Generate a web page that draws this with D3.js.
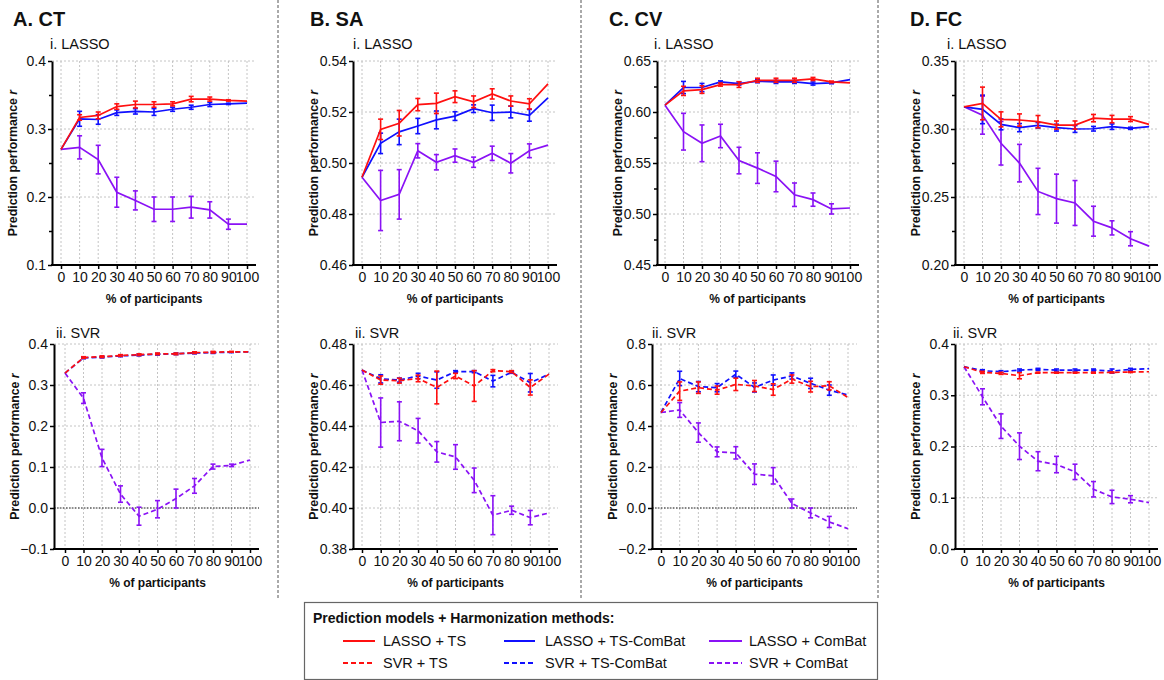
<!DOCTYPE html>
<html><head><meta charset="utf-8">
<script src="https://cdn.jsdelivr.net/npm/d3@7"></script>
<style>body{margin:0;background:#fff}svg{display:block;font-family:"Liberation Sans",Arial,sans-serif}</style>
</head><body><svg id="c" width="1164" height="680"></svg>
<script>
const pct = [0,10,20,30,40,50,60,70,80,90,100];
const xTickLabels = ["0","10","20","30","40","50","60","70","80","90","100"];
const sectionTitles = ["A. CT","B. SA","C. CV","D. FC"];
const modelTitles = ["i. LASSO","ii. SVR"];
const legendTitle = "Prediction models + Harmonization methods:";
const seriesNames = ["LASSO + TS","LASSO + TS-ComBat","LASSO + ComBat","SVR + TS","SVR + TS-ComBat","SVR + ComBat"];

// A. CT
const ctLassoTS = [0.270,0.317,0.320,0.333,0.336,0.336,0.337,0.344,0.344,0.342,0.341];
const ctLassoTSErr = [0,0.004,0.005,0.004,0.005,0.004,0.003,0.004,0.003,0.001,0];
const ctLassoTSC = [0.270,0.315,0.314,0.324,0.326,0.325,0.329,0.332,0.336,0.337,0.338];
const ctLassoTSCErr = [0,0.011,0.007,0.004,0.004,0.005,0.003,0.003,0.003,0.001,0];
const ctLassoCB = [0.270,0.273,0.255,0.207,0.195,0.182,0.182,0.185,0.181,0.160,0.160];
const ctLassoCBErr = [0,0.017,0.021,0.022,0.014,0.018,0.018,0.016,0.012,0.0075,0];
const ctSvrTS = [0.329,0.367,0.369,0.372,0.374,0.376,0.376,0.379,0.380,0.381,0.381];
const ctSvrTSErr = [0,0.002,0.002,0.002,0.002,0.002,0.002,0.002,0.002,0.001,0];
const ctSvrTSC = [0.329,0.366,0.368,0.371,0.373,0.375,0.376,0.378,0.379,0.380,0.381];
const ctSvrTSCErr = [0,0.002,0.002,0.002,0.002,0.002,0.002,0.002,0.002,0.001,0];
const ctSvrCB = [0.329,0.268,0.122,0.034,-0.020,-0.003,0.023,0.054,0.101,0.104,0.117];
const ctSvrCBErr = [0,0.013,0.021,0.020,0.022,0.021,0.023,0.018,0.006,0.003,0];

// B. SA
const saLassoTS = [0.4944,0.5132,0.5156,0.5229,0.5234,0.5260,0.5240,0.5271,0.5243,0.5232,0.5310];
const saLassoTSErr = [0,0.004,0.005,0.0024,0.004,0.0023,0.0023,0.002,0.002,0.002,0];
const saLassoTSC = [0.4944,0.5077,0.5122,0.5145,0.5169,0.5184,0.5213,0.5197,0.5200,0.5187,0.5255];
const saLassoTSCErr = [0,0.004,0.005,0.003,0.0035,0.0017,0.0015,0.003,0.0023,0.0023,0];
const saLassoCB = [0.4944,0.4853,0.4877,0.5048,0.5003,0.5029,0.5003,0.5038,0.4999,0.5048,0.5070];
const saLassoCBErr = [0,0.0118,0.0097,0.0028,0.003,0.0026,0.002,0.0028,0.0038,0.0027,0];
const saSvrTS = [0.4673,0.4624,0.4621,0.4632,0.4588,0.4644,0.4595,0.4670,0.4665,0.4588,0.4653];
const saSvrTSErr = [0,0.002,0.0012,0.0016,0.008,0.0013,0.0075,0.0005,0.0005,0.0037,0];
const saSvrTSC = [0.4673,0.4630,0.4624,0.4644,0.4624,0.4665,0.4665,0.4619,0.4662,0.4611,0.4653];
const saSvrTSCErr = [0,0.002,0.001,0.0013,0.004,0.0005,0.0005,0.0028,0.0005,0.0045,0];
const saSvrCB = [0.4673,0.4417,0.4423,0.4377,0.4274,0.4249,0.4135,0.3965,0.3989,0.3953,0.3976];
const saSvrCBErr = [0,0.012,0.0095,0.006,0.005,0.006,0.006,0.0095,0.002,0.0035,0];

// C. CV
const cvLassoTS = [0.6067,0.6207,0.6220,0.6269,0.6269,0.6311,0.6311,0.6311,0.6324,0.6295,0.6285];
const cvLassoTSErr = [0,0.0045,0.0037,0.0015,0.0028,0.002,0.002,0.002,0.0015,0.0008,0];
const cvLassoTSC = [0.6067,0.6240,0.6240,0.6295,0.6279,0.6302,0.6295,0.6295,0.6279,0.6285,0.6318];
const cvLassoTSCErr = [0,0.006,0.004,0.001,0.0015,0.0015,0.0015,0.0015,0.0015,0.0008,0];
const cvLassoCB = [0.6067,0.5807,0.5693,0.5765,0.5524,0.5450,0.5368,0.5189,0.5141,0.5050,0.5059];
const cvLassoCBErr = [0,0.018,0.018,0.0115,0.013,0.015,0.015,0.0115,0.0065,0.005,0];
const cvSvrTS = [0.466,0.570,0.587,0.575,0.603,0.595,0.578,0.629,0.592,0.596,0.539];
const cvSvrTSErr = [0,0.045,0.028,0.02,0.03,0.027,0.028,0.02,0.026,0.02,0];
const cvSvrTSC = [0.466,0.632,0.592,0.587,0.653,0.588,0.624,0.644,0.608,0.575,0.551];
const cvSvrTSCErr = [0,0.035,0.025,0.02,0.015,0.022,0.025,0.015,0.025,0.025,0];
const cvSvrCB = [0.466,0.478,0.368,0.274,0.269,0.165,0.157,0.022,-0.024,-0.068,-0.101];
const cvSvrCBErr = [0,0.036,0.047,0.024,0.03,0.05,0.04,0.022,0.024,0.027,0];

// D. FC
const fcLassoTS = [0.3163,0.3188,0.3071,0.3066,0.3054,0.3029,0.3029,0.3080,0.3073,0.3073,0.3034];
const fcLassoTSErr = [0,0.012,0.0055,0.0045,0.0045,0.003,0.003,0.0027,0.0027,0.0018,0];
const fcLassoTSC = [0.3163,0.3144,0.3034,0.3010,0.3027,0.3010,0.3000,0.3002,0.3017,0.3005,0.3017];
const fcLassoTSCErr = [0,0.0105,0.004,0.003,0.002,0.0025,0.0025,0.0017,0.002,0.0008,0];
const fcLassoCB = [0.3163,0.3102,0.2895,0.2749,0.2541,0.2488,0.2456,0.2322,0.2273,0.2193,0.2139];
const fcLassoCBErr = [0,0.014,0.016,0.0138,0.017,0.018,0.0165,0.011,0.0052,0.0052,0];
const fcSvrTS = [0.3557,0.3446,0.3427,0.3381,0.3440,0.3440,0.3440,0.3440,0.3446,0.3453,0.3459];
const fcSvrTSErr = [0,0.002,0.002,0.006,0.001,0.001,0.001,0.001,0.001,0.001,0];
const fcSvrTSC = [0.3557,0.3479,0.3459,0.3492,0.3505,0.3492,0.3492,0.3492,0.3472,0.3505,0.3518];
const fcSvrTSCErr = [0,0.002,0.002,0.002,0.002,0.002,0.002,0.002,0.004,0.002,0];
const fcSvrCB = [0.3557,0.2970,0.2397,0.2006,0.1713,0.1648,0.1505,0.1166,0.1016,0.0971,0.0906];
const fcSvrCBErr = [0,0.0156,0.024,0.026,0.0186,0.016,0.015,0.015,0.013,0.007,0];

const RED = "#ff1010", BLUE = "#1010ff", PURPLE = "#8a12f5";
const FONT = '"Liberation Sans", Arial, sans-serif';

const svg = d3.select("#c");

const panels = [
  {sec:0, row:0, ax:52, x0:61, x100:247, title:[50,49], dom:[0.1,0.4], step:0.1, minor:true, fmt:".1f",
   s:[[ctLassoCB,ctLassoCBErr,PURPLE],[ctLassoTSC,ctLassoTSCErr,BLUE],[ctLassoTS,ctLassoTSErr,RED]]},
  {sec:0, row:1, ax:54, x0:65, x100:250, title:[56,338], dom:[-0.1,0.4], step:0.1, minor:false, fmt:".1f", zero:true,
   s:[[ctSvrCB,ctSvrCBErr,PURPLE],[ctSvrTSC,ctSvrTSCErr,BLUE],[ctSvrTS,ctSvrTSErr,RED]]},
  {sec:1, row:0, ax:353, x0:362, x100:548, title:[353,49], dom:[0.46,0.54], step:0.02, minor:false, fmt:".2f",
   s:[[saLassoCB,saLassoCBErr,PURPLE],[saLassoTSC,saLassoTSCErr,BLUE],[saLassoTS,saLassoTSErr,RED]]},
  {sec:1, row:1, ax:353, x0:362, x100:549, title:[355,338], dom:[0.38,0.48], step:0.02, minor:false, fmt:".2f",
   s:[[saSvrCB,saSvrCBErr,PURPLE],[saSvrTSC,saSvrTSCErr,BLUE],[saSvrTS,saSvrTSErr,RED]]},
  {sec:2, row:0, ax:657, x0:665, x100:850, title:[654,49], dom:[0.45,0.65], step:0.05, minor:true, fmt:".2f",
   s:[[cvLassoCB,cvLassoCBErr,PURPLE],[cvLassoTSC,cvLassoTSCErr,BLUE],[cvLassoTS,cvLassoTSErr,RED]]},
  {sec:2, row:1, ax:652, x0:661, x100:848, title:[652,338], dom:[-0.2,0.8], step:0.2, minor:false, fmt:".1f", zero:true,
   s:[[cvSvrCB,cvSvrCBErr,PURPLE],[cvSvrTSC,cvSvrTSCErr,BLUE],[cvSvrTS,cvSvrTSErr,RED]]},
  {sec:3, row:0, ax:955, x0:964, x100:1149, title:[947,49], dom:[0.20,0.35], step:0.05, minor:true, fmt:".2f",
   s:[[fcLassoCB,fcLassoCBErr,PURPLE],[fcLassoTSC,fcLassoTSCErr,BLUE],[fcLassoTS,fcLassoTSErr,RED]]},
  {sec:3, row:1, ax:955, x0:964, x100:1149, title:[953,338], dom:[0.0,0.4], step:0.1, minor:false, fmt:".1f",
   s:[[fcSvrCB,fcSvrCBErr,PURPLE],[fcSvrTSC,fcSvrTSCErr,BLUE],[fcSvrTS,fcSvrTSErr,RED]]}
];
const rows = [{top:61,bottom:265},{top:344,bottom:549}];
const secX = [13,310,609,910];

// separators
[278,581,878].forEach(x=>{
  svg.append("line").attr("x1",x).attr("x2",x).attr("y1",0).attr("y2",598)
    .attr("stroke","#555").attr("stroke-width",1).attr("stroke-dasharray","3,2");
});

// section titles
sectionTitles.forEach((t,i)=>{
  svg.append("text").attr("x",secX[i]).attr("y",26).attr("font-size",20).attr("font-weight","bold")
    .attr("font-family",FONT).attr("fill","#111").text(t);
});

panels.forEach(p=>{
  const r = rows[p.row];
  const xRight = p.x100 + 9;
  const x = d3.scaleLinear().domain([0,100]).range([p.x0,p.x100]);
  const y = d3.scaleLinear().domain(p.dom).range([r.bottom,r.top]);
  const nMaj = Math.round((p.dom[1]-p.dom[0])/p.step);
  const majors = d3.range(nMaj+1).map(i=>+(p.dom[0]+i*p.step).toFixed(4));
  const minors = p.minor ? d3.range(nMaj).map(i=>+(p.dom[0]+(i+0.5)*p.step).toFixed(4)) : [];
  const g = svg.append("g");

  // subtitle
  g.append("text").attr("x",p.title[0]).attr("y",p.title[1]).attr("font-size",14.5)
    .attr("font-family",FONT).attr("fill","#111").text(modelTitles[p.row]);

  // grid
  g.selectAll(".vg").data(pct).enter().append("line")
    .attr("x1",d=>x(d)).attr("x2",d=>x(d)).attr("y1",r.top).attr("y2",r.bottom)
    .attr("stroke","#bdbdbd").attr("stroke-width",0.9).attr("stroke-dasharray","2,2");
  g.selectAll(".hg").data(majors.slice(1)).enter().append("line")
    .attr("x1",p.ax).attr("x2",xRight).attr("y1",d=>y(d)).attr("y2",d=>y(d))
    .attr("stroke","#bdbdbd").attr("stroke-width",0.9).attr("stroke-dasharray","2,2");
  if(p.zero){
    g.append("line").attr("x1",p.ax).attr("x2",xRight).attr("y1",y(0)).attr("y2",y(0))
      .attr("stroke","#222").attr("stroke-width",1).attr("stroke-dasharray","1.5,1.5");
  }

  // axes
  const ya = g.append("g").attr("transform",`translate(${p.ax},0)`)
    .call(d3.axisLeft(y).tickValues(majors).tickFormat(d3.format(p.fmt)).tickSize(4).tickSizeOuter(0).tickPadding(2));
  ya.select(".domain").attr("stroke","#000").attr("stroke-width",2);
  ya.selectAll(".tick line").attr("stroke","#000").attr("stroke-width",1.5);
  ya.selectAll("text").attr("font-size",14).attr("font-family",FONT).attr("fill","#111");
  if(minors.length){
    const ym = g.append("g").attr("transform",`translate(${p.ax},0)`)
      .call(d3.axisLeft(y).tickValues(minors).tickFormat("").tickSize(3).tickSizeOuter(0));
    ym.select(".domain").remove();
    ym.selectAll(".tick line").attr("stroke","#000").attr("stroke-width",1.5);
  }
  const xa = g.append("g").attr("transform",`translate(0,${r.bottom})`)
    .call(d3.axisBottom(x).tickValues(pct).tickFormat((d,i)=>xTickLabels[i]).tickSize(4).tickSizeOuter(0).tickPadding(3));
  xa.select(".domain").remove();
  xa.selectAll(".tick line").attr("stroke","#000").attr("stroke-width",1.5);
  xa.selectAll("text").attr("font-size",14).attr("font-family",FONT).attr("fill","#111");
  g.append("line").attr("x1",p.ax-1).attr("x2",xRight).attr("y1",r.bottom).attr("y2",r.bottom)
    .attr("stroke","#000").attr("stroke-width",2);

  // axis titles
  g.append("text").attr("x",(p.x0+p.x100)/2).attr("y",r.bottom+38).attr("text-anchor","middle")
    .attr("font-size",12).attr("font-weight","bold").attr("font-family",FONT).attr("fill","#111")
    .text("% of participants");
  const yt = g.append("text").attr("transform",`translate(${p.ax-35},${(r.top+r.bottom)/2}) rotate(-90)`)
    .attr("text-anchor","middle").attr("font-size",12.3).attr("font-weight","bold").attr("font-family",FONT).attr("fill","#111");
  yt.append("tspan").text("Prediction performance ");
  yt.append("tspan").attr("font-style","italic").text("r");

  // series
  const dashed = p.row===1;
  p.s.forEach(([vals,errs,col])=>{
    const line = d3.line().x((d,i)=>x(pct[i])).y(d=>y(d));
    g.append("path").attr("d",line(vals)).attr("fill","none").attr("stroke",col)
      .attr("stroke-width",1.7).attr("stroke-dasharray",dashed?"5,3":null);
    const eb = vals.map((v,i)=>({x:pct[i],v,e:errs[i]})).filter(d=>d.e>0);
    const eg = g.append("g").attr("stroke",col).attr("stroke-width",1.6);
    eg.selectAll(".e").data(eb).enter().append("line")
      .attr("x1",d=>x(d.x)).attr("x2",d=>x(d.x)).attr("y1",d=>y(d.v-d.e)).attr("y2",d=>y(d.v+d.e));
    eg.selectAll(".c1").data(eb).enter().append("line")
      .attr("x1",d=>x(d.x)-2.5).attr("x2",d=>x(d.x)+2.5).attr("y1",d=>y(d.v-d.e)).attr("y2",d=>y(d.v-d.e));
    eg.selectAll(".c2").data(eb).enter().append("line")
      .attr("x1",d=>x(d.x)-2.5).attr("x2",d=>x(d.x)+2.5).attr("y1",d=>y(d.v+d.e)).attr("y2",d=>y(d.v+d.e));
  });
});

// legend
const lg = svg.append("g");
lg.append("rect").attr("x",304.5).attr("y",602.5).attr("width",573).attr("height",77)
  .attr("fill","#fff").attr("stroke","#666").attr("stroke-width",1.2);
lg.append("text").attr("x",313).attr("y",623).attr("font-size",14).attr("font-weight","bold")
  .attr("font-family",FONT).attr("fill","#111").text(legendTitle);
const legCols = [[343,375,383],[504,535,545],[709,742,749]];
const legColors = [RED,BLUE,PURPLE];
const legRows = [641,663];
seriesNames.forEach((n,i)=>{
  const c = i%3, rr = Math.floor(i/3);
  const [x1,x2,tx] = legCols[c];
  lg.append("line").attr("x1",x1).attr("x2",x2).attr("y1",legRows[rr]).attr("y2",legRows[rr])
    .attr("stroke",legColors[c]).attr("stroke-width",2).attr("stroke-dasharray",rr?"5,3":null);
  lg.append("text").attr("x",tx).attr("y",legRows[rr]+5).attr("font-size",14.5)
    .attr("font-family",FONT).attr("fill","#111").text(n);
});
</script></body></html>
